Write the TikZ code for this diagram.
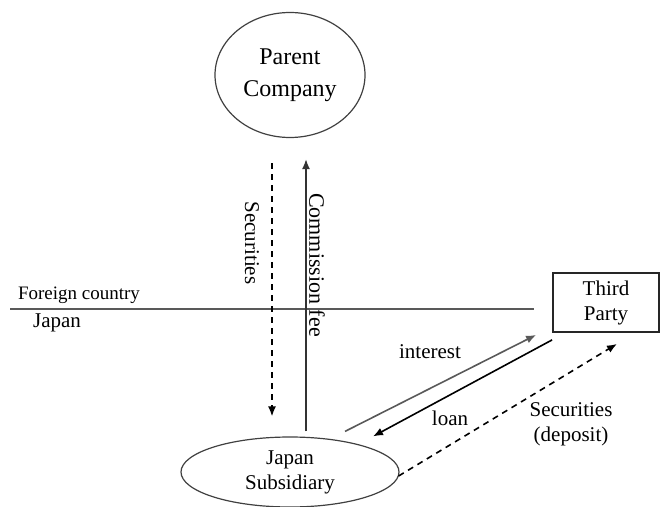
\documentclass[tikz,border=0pt]{standalone}
\usepackage{fontspec}
\setmainfont{Liberation Serif}
\usetikzlibrary{arrows.meta, positioning, shapes.geometric}

\begin{document}
\begin{tikzpicture}[
    x=1bp, y=-1bp,
    >={Latex[length=10bp,width=8bp]},
    font=\rmfamily\fontsize{21bp}{25bp}\selectfont,
    every node/.style={align=center, inner sep=0pt},
    company/.style={ellipse, draw=black!75, line width=1.2bp},
    partybox/.style={rectangle, draw=black!85, line width=1.8bp, minimum width=106bp, minimum height=59bp},
    rotlbl/.style={rotate=-90},
    line/.style={->, line width=1.6bp},
    border/.style={line width=1.6bp, draw=black!65}
]
\useasboundingbox (0,0) rectangle (664,507);
\node[company, minimum width=150bp, minimum height=125bp, font=\rmfamily\fontsize{24bp}{32bp}\selectfont]
    (parent) at (290,75) {Parent\\Company};
\node[company, minimum width=218bp, minimum height=70bp] (sub) at (290,472) {Japan\\Subsidiary};
\node[partybox] (third) at (606,302.5) {Third\\Party};
\coordinate (westend) at (10,309);
\coordinate (eastend) at (534,309);
\node[font=\rmfamily\fontsize{19bp}{22bp}\selectfont] (foreign) at (79,295) {Foreign country};
\node (japan) at (57,323) {Japan};
\node[rotlbl] (secvert) at (252,243) {Securities};
\node[rotlbl, font=\rmfamily\fontsize{22bp}{25bp}\selectfont] (fee) at (317,265) {Commission fee};
\node (interest) at (430,352) {interest};
\node (loan) at (450,418) {loan};
\node (deposit) at (571,424) {Securities\\(deposit)};
\draw[border] (westend) -- (eastend);
\draw[line, dashed, dash pattern=on 6bp off 5bp] ([shift={(-18bp,-25bp)}]parent.south) -- ([shift={(-18bp,20bp)}]sub.north);
\draw[line, draw=black!80] ([shift={(16bp,5bp)}]sub.north) -- ([shift={(16bp,-21bp)}]parent.south);
\draw[line, draw=black!65] ([shift={(55bp,5bp)}]sub.north) -- ([shift={(-16bp,-2bp)}]third.south west);
\draw[line] ([shift={(0bp,-7bp)}]third.south west) -- ([shift={(83bp,0bp)}]sub.north);
\draw[line, dashed, dash pattern=on 6bp off 5bp] ([shift={(-1bp,-4bp)}]sub.east) -- ([shift={(11bp,-11bp)}]third.south);
\end{tikzpicture}
\end{document}
